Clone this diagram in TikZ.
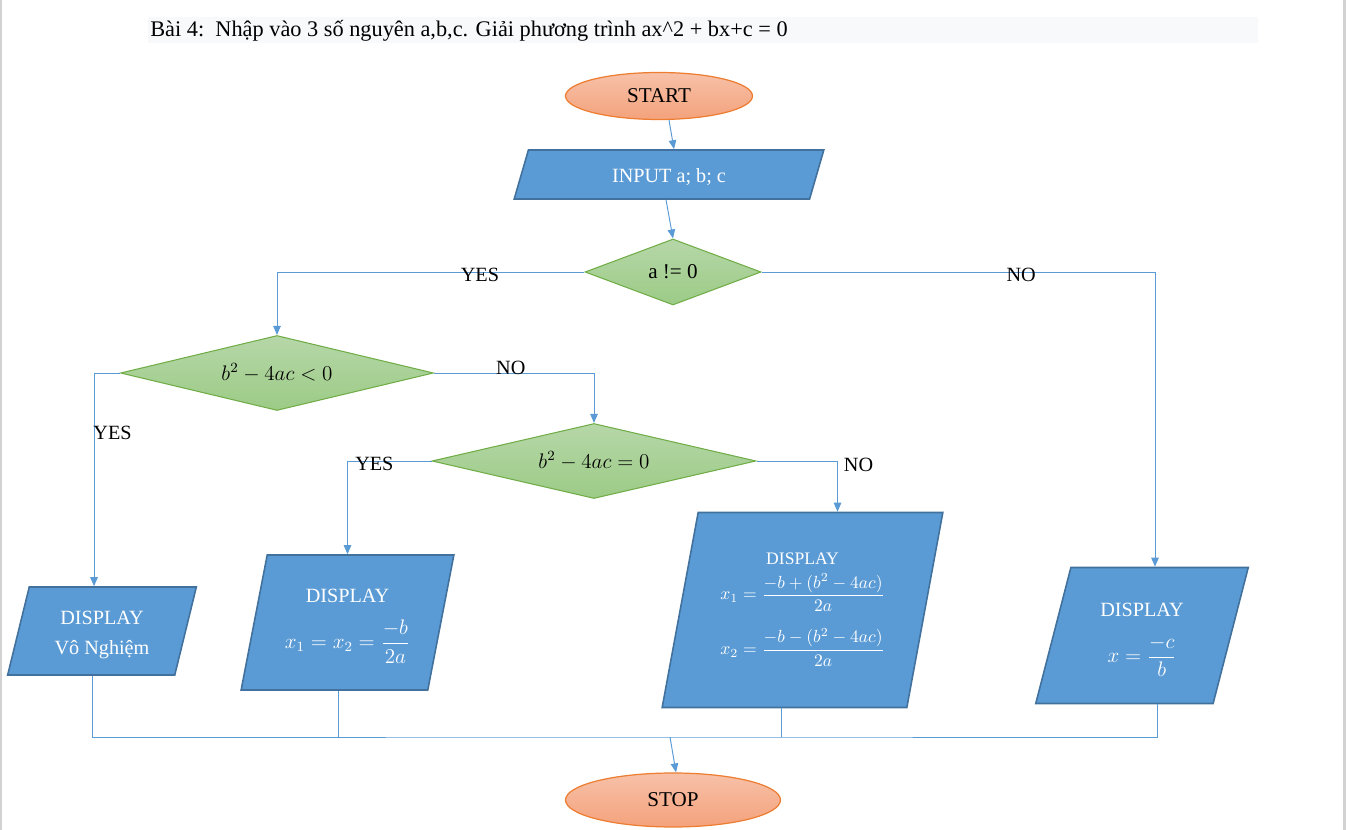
\documentclass[tikz,border=0pt]{standalone}
\usepackage{amsmath}
\usepackage{fontspec}
\setmainfont{Liberation Serif}
\usetikzlibrary{positioning,arrows.meta,shapes.geometric,calc}
\definecolor{boxblue}{HTML}{5B9BD5}
\definecolor{boxedge}{HTML}{41719C}
\definecolor{lineblue}{HTML}{5B9BD5}
\definecolor{dectop}{HTML}{B6D7A8}
\definecolor{decbot}{HTML}{9CCB86}
\definecolor{decedge}{HTML}{70AD47}
\definecolor{termtop}{HTML}{F7C1A8}
\definecolor{termbot}{HTML}{F4A27C}
\definecolor{termedge}{HTML}{ED7D31}
\definecolor{titlebg}{HTML}{F8F9FA}
% push the first line of a box down
\newcommand{\lowfirst}[2]{\raisebox{0pt}[\dimexpr\height+#1\relax]{#2}}
\tikzset{
terminal/.style={
ellipse,
draw=termedge,
line width=0.7pt,
top color=termtop,
bottom color=termbot,
inner sep=0pt,
font=\fontsize{12}{14}\selectfont
},
io/.style={
trapezium,
trapezium left angle=76,
trapezium right angle=104,
trapezium stretches=true,
draw=boxedge,
line width=0.9pt,
fill=boxblue,
text=white,
align=center,
inner sep=0pt,
font=\fontsize{11.5}{14}\selectfont
},
decision/.style={
diamond,
aspect=4,
draw=decedge,
line width=0.6pt,
top color=dectop,
bottom color=decbot,
inner sep=0pt,
font=\fontsize{12}{14}\selectfont
},
flow/.style={
-{Triangle[length=1.8mm,width=1.5mm]},
draw=lineblue,
line width=0.55pt
},
merge/.style={
draw=lineblue,
line width=0.55pt
},
answer/.style={
font=\fontsize{11.5}{13}\selectfont,
inner sep=0pt
}
}

\begin{document}
\begin{tikzpicture}[x=0.02cm,y=-0.02cm]
\useasboundingbox (0,0) rectangle (1346,830);
\draw[gray!35,line width=0.05cm] (1,0) -- (1,830);
\draw[gray!35,line width=0.05cm] (1344.5,0) -- (1344.5,830);
\fill[titlebg] (148,17) rectangle (1258,43);
\node[anchor=west,inner sep=0pt,font=\fontsize{12.7}{14}\selectfont](title) at (150,31)
{Bài 4:\ \ Nhập vào 3 số nguyên a,b,c. Giải phương trình ax\^{}2 + bx+c = 0};

\node[terminal,minimum width=3.74cm,minimum height=0.94cm](start) at (659,96){START};
\node[io,minimum width=6.2cm,minimum height=0.98cm](input) at (669,174.5){\lowfirst{3.4pt}{INPUT a; b; c}};
\node[decision,minimum width=3.52cm,minimum height=1.32cm](d1) at (673,272){a != 0};
\node[decision,minimum width=6.26cm,minimum height=1.5cm](d2) at (277,373){$b^2-4ac<0$};
\node[decision,minimum width=6.48cm,minimum height=1.5cm](d3) at (594,461){$b^2-4ac=0$};
\node[io,minimum width=3.8cm,minimum height=1.76cm](outA) at (102,631){\lowfirst{5pt}{DISPLAY}\\[3pt]Vô Nghiệm};
\node[io,minimum width=4.26cm,minimum height=2.7cm](outB) at (347.5,622.5){\lowfirst{4pt}{DISPLAY}\\[9pt]$x_1=x_2=\dfrac{-b}{2a}$};
\node[io,minimum width=5.62cm,minimum height=3.9cm,font=\fontsize{10}{12}\selectfont](outC) at (802.5,610)
{DISPLAY\\[4pt]$x_1=\dfrac{-b+(b^2-4ac)}{2a}$\\[8.5pt]$x_2=\dfrac{-b-(b^2-4ac)}{2a}$};
\node[io,minimum width=4.28cm,minimum height=2.72cm](outD) at (1142,635.5){\lowfirst{5pt}{DISPLAY}\\[10pt]$x=\dfrac{-c}{b}$};
\node[terminal,minimum width=4.3cm,minimum height=1.08cm](stop) at (673,800){STOP};
\coordinate(bus) at (673,737);

\draw[flow]([xshift=0.2cm]start.south)--([xshift=0.1cm]input.north);
\draw[flow]([xshift=-0.06cm]input.south)--(d1.north);
\draw[flow](d1.west)-|(d2.north) node[answer,pos=0.17,yshift=-0.06cm]{YES};
\draw[flow](d1.east)-|([xshift=0.26cm]outD.north) node[answer,pos=0.33,yshift=-0.06cm]{NO};
\draw[flow](d2.west)-|([xshift=-0.16cm]outA.north) node[answer,pos=0.64,anchor=west,xshift=-0.02cm]{YES};
\draw[flow](d2.east)-|(d3.north) node[answer,pos=0.24,yshift=0.1cm]{NO};
\draw[flow](d3.west)-|(outB.north) node[answer,pos=0.34,yshift=-0.06cm]{YES};
\draw[flow](d3.east)-|([xshift=0.7cm]outC.north) node[answer,pos=0.5,anchor=west,xshift=0.12cm,yshift=-0.08cm]{NO};

\draw[merge]([xshift=-0.2cm]outA.south)|-(bus)-|([xshift=0.3cm]outD.south);
\draw[merge]([xshift=-0.18cm]outB.south)--([xshift=-0.18cm]outB.south|-bus);
\draw[merge]([xshift=-0.43cm]outC.south)--([xshift=-0.43cm]outC.south|-bus);
\draw[flow]([xshift=-0.06cm]bus)--([xshift=0.06cm]stop.north);
\end{tikzpicture}
\end{document}
